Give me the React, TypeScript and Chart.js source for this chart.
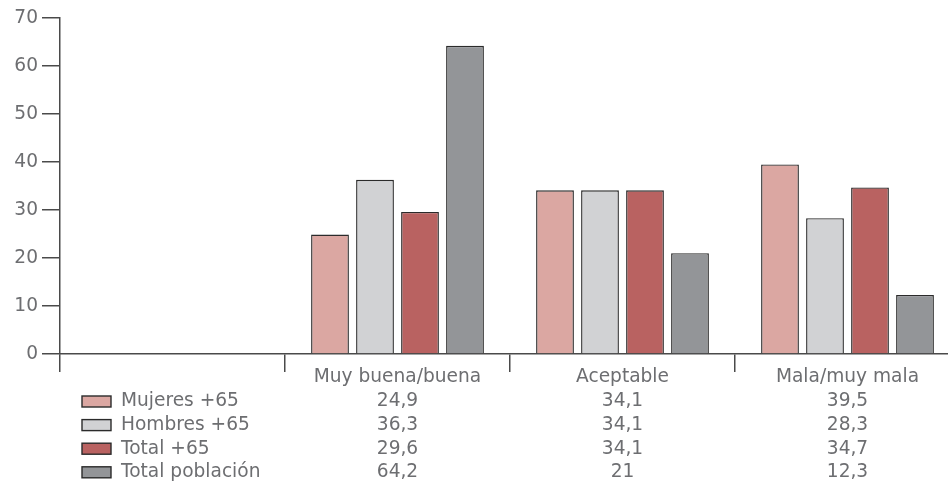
import { useEffect, useRef } from "react";
import { Chart, registerables } from "chart.js";

Chart.register(...registerables);

// Categories (the first slot is intentionally empty)
const categories = ["", "Muy buena/buena", "Aceptable", "Mala/muy mala"];
const seriesNames = ["Mujeres +65", "Hombres +65", "Total +65", "Total población"];
const mujeres65 = [null, 24.9, 34.1, 39.5];
const hombres65 = [null, 36.3, 34.1, 28.3];
const total65 = [null, 29.6, 34.1, 34.7];
const totalPoblacion = [null, 64.2, 21, 12.3];
const yTicks = [0, 10, 20, 30, 40, 50, 60, 70];

const seriesColors = ["#dba7a2", "#d1d2d4", "#b96261", "#939598"];
const FONT = "'DejaVu Sans', sans-serif";
const FONT_SIZE = 18.6;
const TEXT = "#6d6e71";
const LINE = "#4a4a4a";
const BAR_EDGE = "#2b2b2b";

const fmt = (v: number | null) => (v === null ? "" : String(v).replace(".", ","));

// Draws the category names, the data table and its legend swatches below the axis
const tablePlugin = {
  id: "dataTable",
  afterDraw(chart: Chart) {
    const ctx = chart.ctx;
    const xs = chart.scales.x;
    const base = chart.chartArea.bottom;
    ctx.save();
    ctx.font = `${FONT_SIZE}px ${FONT}`;
    ctx.fillStyle = TEXT;
    ctx.textBaseline = "middle";
    ctx.textAlign = "center";
    categories.forEach((c, i) => {
      if (c) ctx.fillText(c, xs.getPixelForValue(i), base + 23);
    });
    const rows = [mujeres65, hombres65, total65, totalPoblacion];
    rows.forEach((row, r) => {
      const y = base + 47.5 + r * 23.6;
      ctx.fillStyle = seriesColors[r];
      ctx.fillRect(82, y - 5.5, 29, 11);
      ctx.strokeStyle = BAR_EDGE;
      ctx.lineWidth = 1.4;
      ctx.strokeRect(82, y - 5.5, 29, 11);
      ctx.fillStyle = TEXT;
      ctx.textAlign = "left";
      ctx.fillText(seriesNames[r], 121, y);
      ctx.textAlign = "center";
      row.forEach((v, i) => {
        if (v !== null) ctx.fillText(fmt(v), xs.getPixelForValue(i), y);
      });
    });
    ctx.restore();
  },
};

export default function App() {
  const ref = useRef<HTMLCanvasElement>(null);

  useEffect(() => {
    if (!ref.current) return;
    const data = [mujeres65, hombres65, total65, totalPoblacion];
    const chart = new Chart(ref.current, {
      type: "bar",
      data: {
        labels: categories,
        datasets: data.map((d, i) => ({
          label: seriesNames[i],
          data: d,
          backgroundColor: seriesColors[i],
          borderColor: BAR_EDGE,
          borderWidth: 1.4,
          categoryPercentage: 0.8,
          barPercentage: 0.84,
        })),
      },
      options: {
        responsive: false,
        animation: false,
        layout: { padding: { top: 18, left: 0, right: 0, bottom: 0 } },
        plugins: { legend: { display: false }, tooltip: { enabled: false } },
        scales: {
          x: {
            offset: true,
            afterFit: (s: any) => {
              s.height = 131;
            },
            grid: {
              offset: true,
              drawOnChartArea: false,
              drawTicks: true,
              tickLength: 18,
              color: LINE,
              lineWidth: 1.5,
            },
            border: { display: true, color: LINE, width: 1.5 },
            ticks: { display: false },
          },
          y: {
            min: 0,
            max: 70,
            afterFit: (s: any) => {
              s.width = 60;
            },
            afterBuildTicks: (s: any) => {
              s.ticks = yTicks.map((v) => ({ value: v }));
            },
            grid: {
              drawOnChartArea: false,
              drawTicks: true,
              tickLength: 18,
              color: LINE,
              lineWidth: 1.5,
            },
            border: { display: true, color: LINE, width: 1.5 },
            ticks: {
              padding: 4,
              color: TEXT,
              font: { family: FONT, size: FONT_SIZE },
            },
          },
        },
      },
      plugins: [tablePlugin],
    });
    return () => chart.destroy();
  }, []);

  return (
    <div style={{ position: "fixed", left: 0, top: 0, width: 948, height: 485, overflow: "hidden", background: "#fff" }}>
      <canvas ref={ref} width={960} height={485} style={{ display: "block" }} />
    </div>
  );
}
